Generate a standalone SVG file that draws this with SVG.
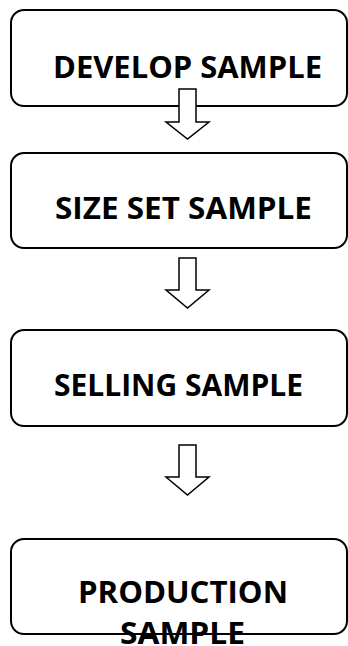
<svg xmlns="http://www.w3.org/2000/svg" width="348" height="646" viewBox="0 0 348 646">
<style>
.box{fill:#fff;stroke:#000;stroke-width:2}
.arr{fill:#fff;stroke:#000;stroke-width:1.5;stroke-linejoin:miter}
.t{font-family:"Open Sans","Liberation Sans",sans-serif;font-weight:bold;font-size:31px;fill:#000}
</style>
<rect width="348" height="646" fill="#fff"/>
<g id="n1"><rect class="box" x="11" y="10" width="336" height="96" rx="13"/>
<text class="t" x="53" y="78" textLength="269" lengthAdjust="spacingAndGlyphs">DEVELOP SAMPLE</text></g>
<g id="n2"><rect class="box" x="11" y="153" width="336" height="95" rx="13"/>
<text class="t" x="55" y="219" textLength="257" lengthAdjust="spacingAndGlyphs">SIZE SET SAMPLE</text></g>
<g id="n3"><rect class="box" x="11" y="330" width="336" height="96" rx="13"/>
<text class="t" x="54" y="396" textLength="249" lengthAdjust="spacingAndGlyphs">SELLING SAMPLE</text></g>
<g id="n4"><rect class="box" x="11" y="539" width="336" height="95" rx="13"/>
<text class="t" x="78" y="603" textLength="210" lengthAdjust="spacingAndGlyphs">PRODUCTION</text>
<text class="t" x="120" y="644" textLength="125" lengthAdjust="spacingAndGlyphs">SAMPLE</text></g>
<g id="connectors">
<path class="arr" d="M179,89 H196 V122 H209 L187.5,139 L166,122 H179 Z"/>
<path class="arr" d="M179,258 H196 V290 H209 L187.5,308 L166,290 H179 Z"/>
<path class="arr" d="M179,445 H196 V477 H209 L187.5,495 L166,477 H179 Z"/>
</g>
</svg>
